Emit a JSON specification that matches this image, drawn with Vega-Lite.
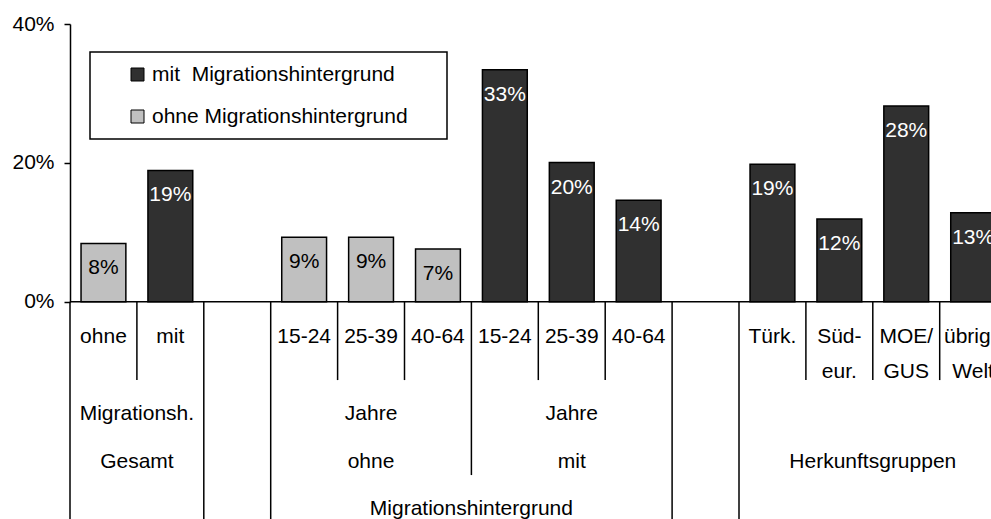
{
  "$schema": "https://vega.github.io/schema/vega-lite/v6.json",
  "width": 921,
  "height": 495,
  "autosize": {"type": "none"},
  "padding": {"left": 70, "top": 24, "right": 0, "bottom": 0},
  "background": "white",
  "config": {
    "view": {"stroke": null},
    "font": "Liberation Sans",
    "text": {"font": "Liberation Sans", "fontSize": 21, "color": "black"}
  },
  "datasets": {
    "bars": [
      {"slot": "G-ohne", "group": "ohne", "value": 0.084, "label": "8%"},
      {"slot": "G-mit", "group": "mit", "value": 0.189, "label": "19%"},
      {"slot": "O-15-24", "group": "ohne", "value": 0.093, "label": "9%"},
      {"slot": "O-25-39", "group": "ohne", "value": 0.093, "label": "9%"},
      {"slot": "O-40-64", "group": "ohne", "value": 0.076, "label": "7%"},
      {"slot": "M-15-24", "group": "mit", "value": 0.334, "label": "33%"},
      {"slot": "M-25-39", "group": "mit", "value": 0.2005, "label": "20%"},
      {"slot": "M-40-64", "group": "mit", "value": 0.146, "label": "14%"},
      {"slot": "Türk", "group": "mit", "value": 0.198, "label": "19%"},
      {"slot": "Süd", "group": "mit", "value": 0.119, "label": "12%"},
      {"slot": "MOE", "group": "mit", "value": 0.282, "label": "28%"},
      {"slot": "übrige", "group": "mit", "value": 0.128, "label": "13%"}
    ],
    "lines": [
      {"slot": "G-ohne", "start": 0, "end": 4.575},
      {"slot": "G-mit", "start": 0, "end": 1.65},
      {"slot": "gap1", "start": 0, "end": 4.575},
      {"slot": "O-15-24", "start": 0, "end": 4.575},
      {"slot": "O-25-39", "start": 0, "end": 1.65},
      {"slot": "O-40-64", "start": 0, "end": 1.65},
      {"slot": "M-15-24", "start": 0, "end": 3.65},
      {"slot": "M-25-39", "start": 0, "end": 1.65},
      {"slot": "M-40-64", "start": 0, "end": 1.65},
      {"slot": "gap2", "start": 0, "end": 4.575},
      {"slot": "Türk", "start": 0, "end": 4.575},
      {"slot": "Süd", "start": 0, "end": 1.65},
      {"slot": "MOE", "start": 0, "end": 1.65},
      {"slot": "übrige", "start": 0, "end": 1.65}
    ],
    "centerText": [
      {"slot": "G-ohne", "line": 0.74, "text": "ohne"},
      {"slot": "G-mit", "line": 0.74, "text": "mit"},
      {"slot": "O-15-24", "line": 0.74, "text": "15-24"},
      {"slot": "O-25-39", "line": 0.74, "text": "25-39"},
      {"slot": "O-40-64", "line": 0.74, "text": "40-64"},
      {"slot": "M-15-24", "line": 0.74, "text": "15-24"},
      {"slot": "M-25-39", "line": 0.74, "text": "25-39"},
      {"slot": "M-40-64", "line": 0.74, "text": "40-64"},
      {"slot": "Türk", "line": 0.74, "text": "Türk."},
      {"slot": "Süd", "line": 0.74, "text": "Süd-"},
      {"slot": "Süd", "line": 1.48, "text": "eur."},
      {"slot": "MOE", "line": 0.74, "text": "MOE/"},
      {"slot": "MOE", "line": 1.48, "text": "GUS"},
      {"slot": "übrige", "line": 0.74, "text": "übrige"},
      {"slot": "übrige", "line": 1.48, "text": "Welt"},
      {"slot": "O-25-39", "line": 2.36, "text": "Jahre"},
      {"slot": "O-25-39", "line": 3.37, "text": "ohne"},
      {"slot": "M-25-39", "line": 2.36, "text": "Jahre"},
      {"slot": "M-25-39", "line": 3.37, "text": "mit"}
    ],
    "edgeText": [
      {"slot": "G-mit", "line": 2.36, "text": "Migrationsh."},
      {"slot": "G-mit", "line": 3.37, "text": "Gesamt"},
      {"slot": "MOE", "line": 3.37, "text": "Herkunftsgruppen"},
      {"slot": "M-15-24", "line": 4.36, "text": "Migrationshintergrund"}
    ]
  },
  "layer": [
    {
      "layer": [
        {
          "data": {"name": "bars"},
          "mark": {"type": "bar", "stroke": "black", "strokeWidth": 1.5, "width": {"band": 0.67}},
          "encoding": {
            "x": {
              "field": "slot",
              "type": "nominal",
              "axis": null,
              "scale": {
                "domain": ["G-ohne", "G-mit", "gap1", "O-15-24", "O-25-39", "O-40-64", "M-15-24", "M-25-39", "M-40-64", "gap2", "Türk", "Süd", "MOE", "übrige"],
                "range": [0, 936.6],
                "paddingInner": 0,
                "paddingOuter": 0
              }
            },
            "y": {
              "field": "value",
              "type": "quantitative",
              "scale": {"domain": [0, 0.4], "range": [277.7, 0], "nice": false, "zero": true},
              "axis": {
                "values": [0, 0.2, 0.4],
                "format": ".0%",
                "title": null,
                "grid": false,
                "labelFont": "Liberation Sans",
                "labelFontSize": 21,
                "labelColor": "black",
                "labelPadding": 10,
                "tickSize": 6,
                "tickColor": "black",
                "tickWidth": 1.5,
                "domainColor": "black",
                "domainWidth": 1.5
              }
            },
            "color": {
              "field": "group",
              "type": "nominal",
              "scale": {"domain": ["mit", "ohne"], "range": ["#303030", "#c0c0c0"]},
              "legend": {
                "orient": "none",
                "legendX": 20,
                "legendY": 28,
                "title": null,
                "direction": "vertical",
                "fillColor": "white",
                "strokeColor": "black",
                "padding": 12,
                "rowPadding": 20,
                "symbolType": "square",
                "symbolSize": 169,
                "symbolStrokeColor": "black",
                "symbolStrokeWidth": 1,
                "symbolOffset": 25,
                "labelFont": "Liberation Sans",
                "labelFontSize": 21,
                "labelColor": "black",
                "labelOffset": 4,
                "labelLimit": 500,
                "labelExpr": "datum.value === 'mit' ? 'mit\u00a0 Migrationshintergrund' : 'ohne Migrationshintergrund\u00a0\u00a0\u2800'",
                "encode": {"legend": {"update": {"strokeWidth": {"value": 1.5}}}}
              }
            }
          }
        },
        {
          "data": {"name": "bars"},
          "mark": {"type": "text", "baseline": "middle", "align": "center", "dy": 25, "fontSize": 21},
          "encoding": {
            "x": {"field": "slot", "type": "nominal"},
            "y": {"field": "value", "type": "quantitative"},
            "text": {"field": "label"},
            "color": {"condition": {"test": "datum.group === 'mit'", "value": "white"}, "value": "black"}
          }
        },
        {
          "data": {"values": [{"base": 0}]},
          "mark": {"type": "rule", "color": "black", "strokeWidth": 1.5},
          "encoding": {"y": {"field": "base", "type": "quantitative"}}
        }
      ]
    },
    {
      "layer": [
        {
          "data": {"name": "lines"},
          "mark": {"type": "rule", "color": "black", "strokeWidth": 1.5},
          "encoding": {
            "x": {"field": "slot", "type": "nominal", "bandPosition": 0},
            "y": {
              "field": "start",
              "type": "quantitative",
              "scale": {"domain": [0, 4.575], "range": [277.7, 495], "nice": false, "zero": false},
              "axis": null
            },
            "y2": {"field": "end"}
          }
        },
        {
          "data": {"name": "centerText"},
          "mark": {"type": "text", "baseline": "middle", "align": "center", "fontSize": 21},
          "encoding": {
            "x": {"field": "slot", "type": "nominal"},
            "y": {"field": "line", "type": "quantitative"},
            "text": {"field": "text"}
          }
        },
        {
          "data": {"name": "edgeText"},
          "mark": {"type": "text", "baseline": "middle", "align": "center", "fontSize": 21},
          "encoding": {
            "x": {"field": "slot", "type": "nominal", "bandPosition": 0},
            "y": {"field": "line", "type": "quantitative"},
            "text": {"field": "text"}
          }
        }
      ]
    }
  ],
  "resolve": {"scale": {"y": "independent"}, "axis": {"y": "independent"}}
}
